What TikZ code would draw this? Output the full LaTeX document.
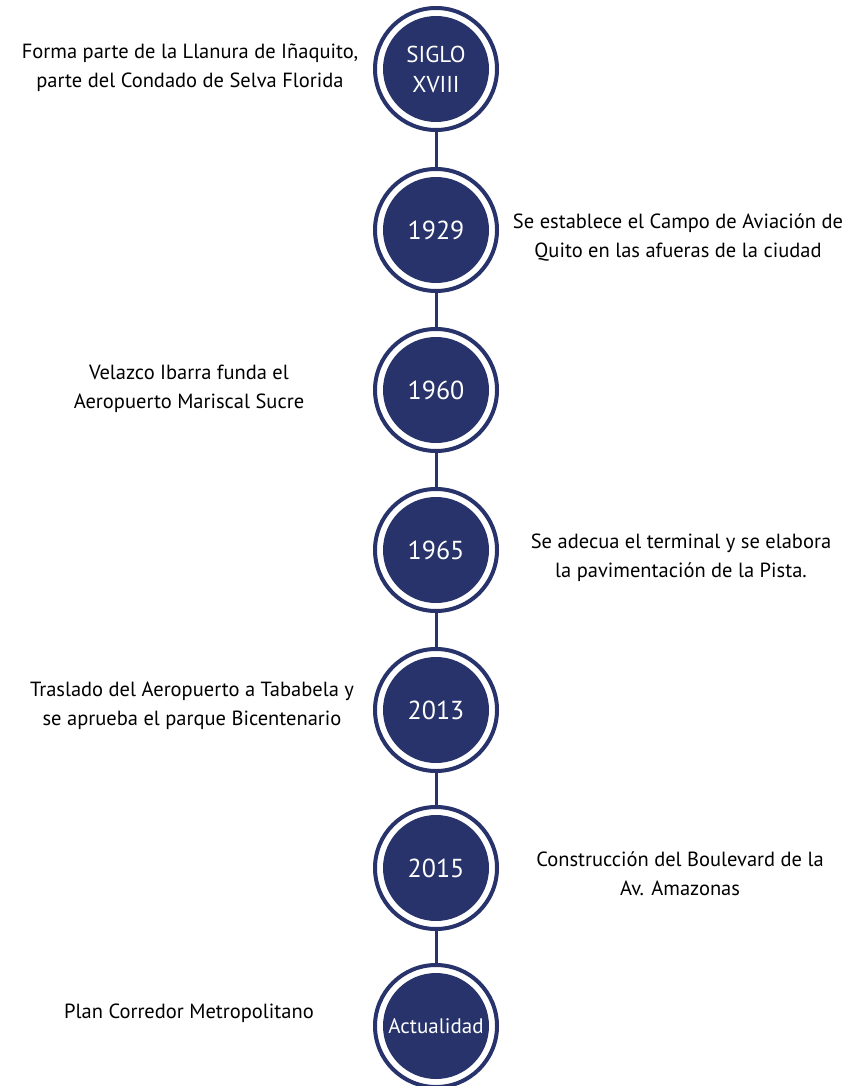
\documentclass[tikz,border=0pt]{standalone}
\usepackage{fontspec}
\setmainfont{PT Sans}
\definecolor{navy}{HTML}{27336A}
\tikzset{
  ring/.style={circle, draw=navy, line width=4pt, minimum size=122pt, inner sep=0pt},
  disc/.style={circle, fill=navy, minimum size=106pt, inner sep=0pt, text=white, align=center, font=\fontsize{26}{28}\selectfont},
  desc/.style={align=center, font=\fontsize{20.5}{29}\selectfont, text=black},
  link/.style={draw=navy, line width=3pt}
}
\begin{document}
\begin{tikzpicture}[x=1pt,y=-1pt]
\useasboundingbox (0,0) rectangle (847,1086);
\foreach \n/\yy in {a/69,b/230,c/390,d/550,e/710,f/868,g/1026}{
  \node[ring] (r\n) at (436,\yy) {};
}
\node[disc, font=\fontsize{23}{30}\selectfont] (da) at (436,69) {SIGLO\\XVIII};
\node[disc] (db) at (436,230) {1929};
\node[disc] (dc) at (436,390) {1960};
\node[disc] (dd) at (436,550) {1965};
\node[disc] (de) at (436,710) {2013};
\node[disc] (df) at (436,868) {2015};
\node[disc, font=\fontsize{21}{22}\selectfont] (dg) at (436,1026) {Actualidad};
\draw[link] (ra.south) -- (rb.north);
\draw[link] (rb.south) -- (rc.north);
\draw[link] (rc.south) -- (rd.north);
\draw[link] (rd.south) -- (re.north);
\draw[link] (re.south) -- (rf.north);
\draw[link] (rf.south) -- (rg.north);
\node[desc] (ta) at (190,68) {Forma parte de la Llanura de Iñaquito,\\parte del Condado de Selva Florida};
\node[desc] (tb) at (678,237) {Se establece el Campo de Aviación de\\Quito en las afueras de la ciudad};
\node[desc] (tc) at (189,389) {Velazco Ibarra funda el\\Aeropuerto Mariscal Sucre};
\node[desc] (td) at (681,558) {Se adecua el terminal y se elabora\\la pavimentación de la Pista.};
\node[desc] (te) at (192,706) {Traslado del Aeropuerto a Tababela y\\se aprueba el parque Bicentenario};
\node[desc] (tf) at (680,874) {Construcción del Boulevard de la\\Av. Amazonas};
\node[desc] (tg) at (189,1013) {Plan Corredor Metropolitano};
\end{tikzpicture}
\end{document}
